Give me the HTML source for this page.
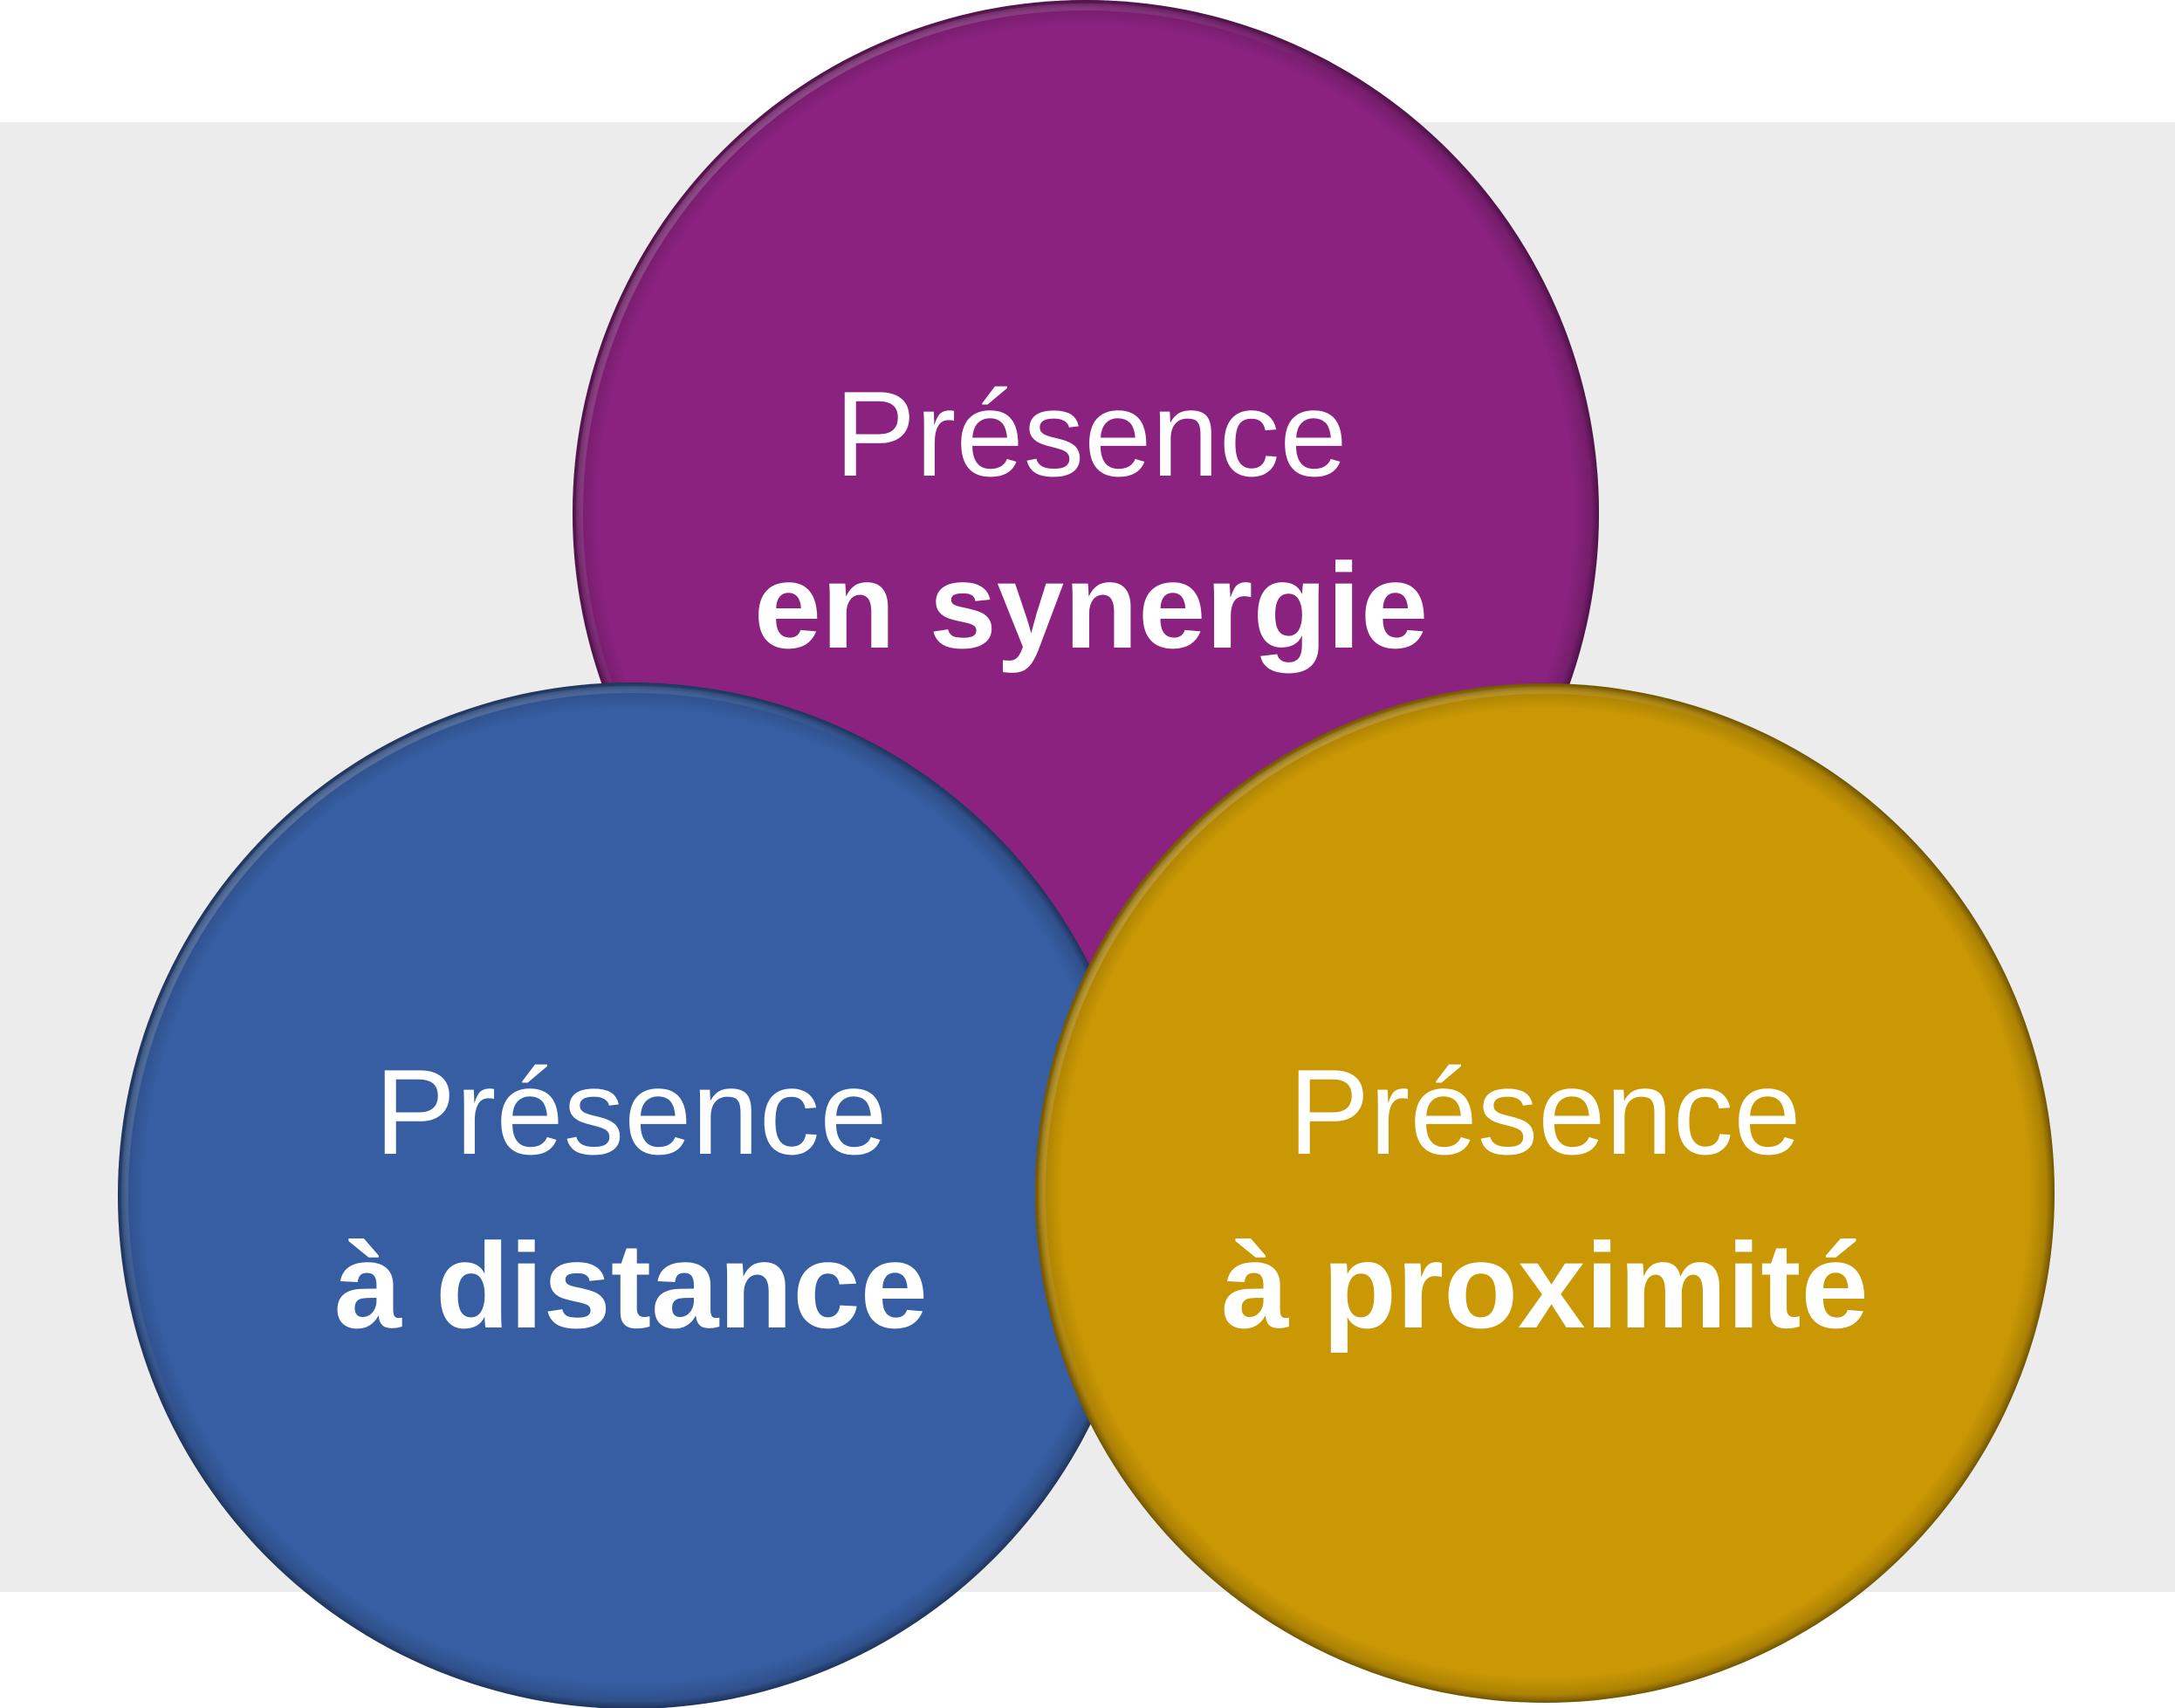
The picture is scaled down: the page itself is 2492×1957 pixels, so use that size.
<!DOCTYPE html>
<html><head><meta charset="utf-8"><style>
html,body{margin:0;padding:0;background:#fff;}
svg{display:block;}
text{font-family:"Liberation Sans",sans-serif;fill:#fff;text-anchor:middle;font-size:139px;}
</style></head><body>
<svg width="2492" height="1957" viewBox="0 0 2492 1957" xmlns="http://www.w3.org/2000/svg">
<defs>
<radialGradient id="edge" cx="50%" cy="50%" r="50%">
<stop offset="0.95" stop-color="#000" stop-opacity="0"/>
<stop offset="0.985" stop-color="#000" stop-opacity="0.15"/>
<stop offset="1" stop-color="#000" stop-opacity="0.45"/>
</radialGradient>
<linearGradient id="hl" x1="0" y1="0" x2="1" y2="1">
<stop offset="0" stop-color="#fff" stop-opacity="0.35"/>
<stop offset="0.4" stop-color="#fff" stop-opacity="0"/>
</linearGradient>
</defs>
<rect x="0" y="140" width="2492" height="1684" fill="#ececec"/>
<g>
<circle cx="1244" cy="588" r="588" fill="#8b2280"/>
<circle cx="1244" cy="588" r="580" fill="none" stroke="url(#hl)" stroke-width="8"/>
<circle cx="1244" cy="588" r="588" fill="url(#edge)"/>
<text x="1250" y="545">Présence</text>
<text x="1250" y="742" font-weight="bold">en synergie</text>
</g>
<g>
<circle cx="723" cy="1370" r="588" fill="#375ea3"/>
<circle cx="723" cy="1370" r="580" fill="none" stroke="url(#hl)" stroke-width="8"/>
<circle cx="723" cy="1370" r="588" fill="url(#edge)"/>
<text x="723" y="1322">Présence</text>
<text x="723" y="1521" font-weight="bold">à distance</text>
</g>
<g>
<circle cx="1770" cy="1367" r="584" fill="#ca9804"/>
<circle cx="1770" cy="1367" r="576" fill="none" stroke="url(#hl)" stroke-width="8"/>
<circle cx="1770" cy="1367" r="584" fill="url(#edge)"/>
<text x="1770" y="1322">Présence</text>
<text x="1770" y="1521" font-weight="bold">à proximité</text>
</g>
</svg>
</body></html>
